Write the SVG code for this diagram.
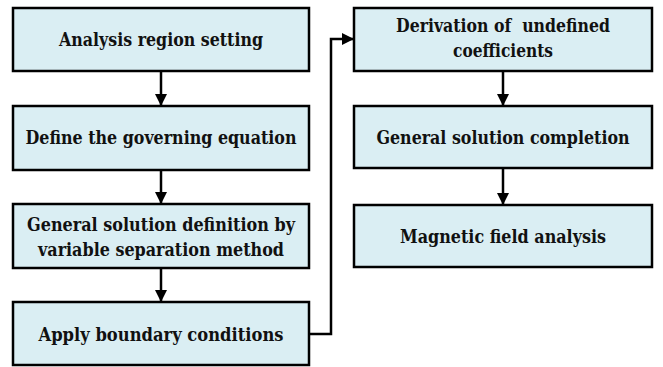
<svg xmlns="http://www.w3.org/2000/svg" width="663" height="367" viewBox="0 0 663 367">
<style>
.box{fill:#daeef3;stroke:#000;stroke-width:2.5}
.t{font-family:'DejaVu Serif',serif;font-weight:bold;font-size:18px;fill:#111;text-anchor:middle;white-space:pre}
.c{fill:none;stroke:#000;stroke-width:2.5}
</style>
<defs>
<marker id="ah" markerWidth="12" markerHeight="12" refX="11" refY="6" orient="auto" markerUnits="userSpaceOnUse">
<path d="M0,0 L12,6 L0,12 Z" fill="#000"/>
</marker>
</defs>
<g id="connectors">
<line class="c" x1="161" y1="71" x2="161" y2="105" marker-end="url(#ah)"/>
<line class="c" x1="161" y1="170" x2="161" y2="203" marker-end="url(#ah)"/>
<line class="c" x1="161" y1="268" x2="161" y2="301" marker-end="url(#ah)"/>
<polyline class="c" points="309,334 331,334 331,39 353,39" marker-end="url(#ah)"/>
<line class="c" x1="503" y1="71" x2="503" y2="105" marker-end="url(#ah)"/>
<line class="c" x1="503" y1="168" x2="503" y2="204" marker-end="url(#ah)"/>
</g>
<g id="n1"><rect class="box" x="13" y="8" width="296" height="63"/><text class="t" x="161" y="46" textLength="204" lengthAdjust="spacingAndGlyphs">Analysis region setting</text></g>
<g id="n2"><rect class="box" x="13" y="106" width="296" height="64"/><text class="t" x="161" y="144" textLength="271" lengthAdjust="spacingAndGlyphs">Define the governing equation</text></g>
<g id="n3"><rect class="box" x="13" y="204" width="296" height="64"/><text class="t" x="161" y="231" textLength="268" lengthAdjust="spacingAndGlyphs">General solution definition by</text><text class="t" x="161" y="256" textLength="246" lengthAdjust="spacingAndGlyphs">variable separation method</text></g>
<g id="n4"><rect class="box" x="13" y="302" width="296" height="63"/><text class="t" x="161" y="341" textLength="245" lengthAdjust="spacingAndGlyphs">Apply boundary conditions</text></g>
<g id="n5"><rect class="box" x="354" y="8" width="298" height="63"/><text class="t" x="503" y="32" textLength="214" lengthAdjust="spacingAndGlyphs">Derivation of  undefined</text><text class="t" x="503" y="57" textLength="100" lengthAdjust="spacingAndGlyphs">coefficients</text></g>
<g id="n6"><rect class="box" x="354" y="106" width="298" height="62"/><text class="t" x="503" y="144" textLength="253" lengthAdjust="spacingAndGlyphs">General solution completion</text></g>
<g id="n7"><rect class="box" x="354" y="205" width="298" height="62"/><text class="t" x="503" y="243" textLength="206" lengthAdjust="spacingAndGlyphs">Magnetic field analysis</text></g>
</svg>
